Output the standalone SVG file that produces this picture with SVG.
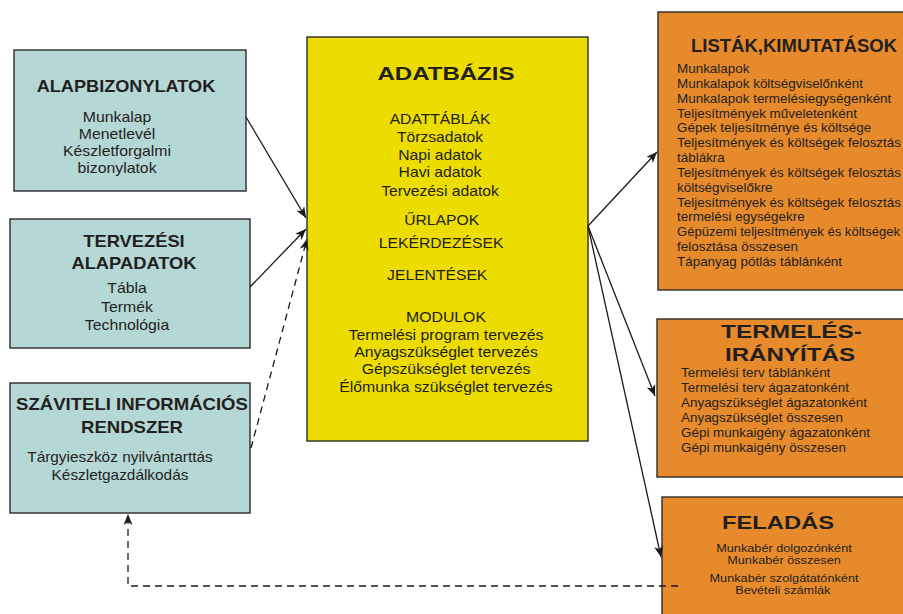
<svg xmlns="http://www.w3.org/2000/svg" width="903" height="614" viewBox="0 0 903 614">
<style>
text{font-family:"Liberation Sans",Arial,sans-serif;fill:#231f20}
.h{font-weight:bold;font-size:16.5px;text-anchor:middle}
.hw{font-weight:bold;font-size:17.5px;text-anchor:middle}
.b{font-size:14px;text-anchor:middle}
.s{font-size:12px}
.sc{font-size:10.6px;text-anchor:middle}
.teal{fill:#b5d7d5;stroke:#2b2b2b;stroke-width:1.4}
.yel{fill:#ecdc00;stroke:#2b2b2b;stroke-width:1.4}
.org{fill:#e68a2c;stroke:#2b2b2b;stroke-width:1.4}
.ln{fill:none;stroke:#1a1a1a;stroke-width:1.3}
.dash{fill:none;stroke:#1a1a1a;stroke-width:1.3;stroke-dasharray:7 5}
</style>
<defs>
<marker id="ah" markerWidth="12" markerHeight="10" refX="11" refY="4.5" orient="auto" markerUnits="userSpaceOnUse">
<path d="M0,0 L11,4.5 L0,9 L3,4.5 Z" fill="#1a1a1a"/>
</marker>
</defs>
<rect width="903" height="614" fill="#ffffff"/>

<g id="alapbizonylatok">
<rect class="teal" x="14" y="50" width="232" height="141"/>
<g transform="translate(126,0) scale(1.1,1)"><text class="h" x="0" y="92">ALAPBIZONYLATOK</text></g>
<g transform="translate(117,0) scale(1.13,1)">
<text class="b" x="0" y="122">Munkalap</text>
<text class="b" x="0" y="139.5">Menetlevél</text>
<text class="b" x="0" y="156">Készletforgalmi</text>
<text class="b" x="0" y="173">bizonylatok</text>
</g>
</g>

<g id="tervezesi-alapadatok">
<rect class="teal" x="10" y="219" width="240" height="129"/>
<g transform="translate(134,0) scale(1.11,1)">
<text class="h" x="0" y="247">TERVEZÉSI</text>
<text class="h" x="0" y="269">ALAPADATOK</text>
</g>
<g transform="translate(127,0) scale(1.13,1)">
<text class="b" x="0" y="293">Tábla</text>
<text class="b" x="0" y="312">Termék</text>
<text class="b" x="0" y="330">Technológia</text>
</g>
</g>

<g id="szviteli-informacios-rendszer">
<rect class="teal" x="10" y="383" width="240" height="130"/>
<g transform="translate(132,0) scale(1.125,1)">
<text class="h" x="0" y="410">SZÁVITELI INFORMÁCIÓS</text>
<text class="h" x="0" y="433">RENDSZER</text>
</g>
<g transform="translate(120,0) scale(1.1,1)">
<text class="b" x="0" y="462">Tárgyieszköz nyilvántarttás</text>
<text class="b" x="0" y="480">Készletgazdálkodás</text>
</g>
</g>

<g id="adatbazis">
<rect class="yel" x="307" y="37" width="281" height="404"/>
<text class="hw" x="446" y="80" textLength="137" lengthAdjust="spacingAndGlyphs">ADATBÁZIS</text>
<g transform="translate(440,0) scale(1.12,1)">
<text class="b" x="0" y="124">ADATTÁBLÁK</text>
<text class="b" x="0" y="142">Törzsadatok</text>
<text class="b" x="0" y="160.5">Napi adatok</text>
<text class="b" x="0" y="177">Havi adatok</text>
<text class="b" x="0" y="196">Tervezési adatok</text>
<text class="b" x="1.5" y="225">ŰRLAPOK</text>
<text class="b" x="1" y="248.5">LEKÉRDEZÉSEK</text>
<text class="b" x="-2.5" y="280.5">JELENTÉSEK</text>
</g>
<g transform="translate(446,0) scale(1.13,1)">
<text class="b" x="0" y="322">MODULOK</text>
<text class="b" x="0" y="340">Termelési program tervezés</text>
<text class="b" x="0" y="357">Anyagszükséglet tervezés</text>
<text class="b" x="0" y="374.5">Gépszükséglet tervezés</text>
<text class="b" x="0" y="392">Élőmunka szükséglet tervezés</text>
</g>
</g>

<g id="listak-kimutatasok">
<rect class="org" x="658" y="12" width="260" height="278"/>
<text class="hw" x="794" y="52" textLength="206" lengthAdjust="spacingAndGlyphs">LISTÁK,KIMUTATÁSOK</text>
<g transform="translate(677,0) scale(1.12,1)">
<text class="s" x="0" y="73">Munkalapok</text>
<text class="s" x="0" y="87.85">Munkalapok költségviselőnként</text>
<text class="s" x="0" y="102.7">Munkalapok termelésiegységenként</text>
<text class="s" x="0" y="117.55">Teljesítmények műveletenként</text>
<text class="s" x="0" y="132.4">Gépek teljesítménye és költsége</text>
<text class="s" x="0" y="147.25">Teljesítmények és költségek felosztás</text>
<text class="s" x="0" y="162.1">táblákra</text>
<text class="s" x="0" y="176.95">Teljesítmények és költségek felosztás</text>
<text class="s" x="0" y="191.8">költségviselőkre</text>
<text class="s" x="0" y="206.65">Teljesítmények és költségek felosztás</text>
<text class="s" x="0" y="221.5">termelési egységekre</text>
<text class="s" x="0" y="251.2">felosztása összesen</text>
<text class="s" x="0" y="266.05">Tápanyag pótlás táblánként</text>
</g>
<g transform="translate(677,0) scale(1.09,1)">
<text class="s" x="0" y="236.35">Gépüzemi teljesítmények és költségek</text>
</g>
</g>

<g id="termelesiranyitas">
<rect class="org" x="657" y="319" width="260" height="158"/>
<text class="hw" x="791.5" y="338" textLength="141" lengthAdjust="spacingAndGlyphs">TERMELÉS-</text>
<text class="hw" x="790" y="361" textLength="130" lengthAdjust="spacingAndGlyphs">IRÁNYÍTÁS</text>
<g transform="translate(681,0) scale(1.12,1)">
<text class="s" x="0" y="377">Termelési terv táblánként</text>
<text class="s" x="0" y="392">Termelési terv ágazatonként</text>
<text class="s" x="0" y="407">Anyagszükséglet ágazatonként</text>
<text class="s" x="0" y="422">Anyagszükséglet összesen</text>
<text class="s" x="0" y="437">Gépi munkaigény ágazatonként</text>
<text class="s" x="0" y="452">Gépi munkaigény összesen</text>
</g>
</g>

<g id="feladas">
<rect class="org" x="662" y="497" width="260" height="130"/>
<text class="hw" x="778" y="529" textLength="112" lengthAdjust="spacingAndGlyphs">FELADÁS</text>
<g transform="translate(784,0) scale(1.2,1)">
<text class="sc" x="0" y="552.5">Munkabér dolgozónként</text>
<text class="sc" x="0" y="564.5">Munkabér összesen</text>
<text class="sc" x="0" y="582">Munkabér szolgátatónként</text>
<text class="sc" x="-1" y="594">Bevételi számlák</text>
</g>
</g>

<g id="connectors">
<line class="ln" x1="246" y1="117" x2="306" y2="218" marker-end="url(#ah)"/>
<line class="ln" x1="250" y1="287" x2="306" y2="229" marker-end="url(#ah)"/>
<line class="dash" x1="251" y1="448" x2="307" y2="239" marker-end="url(#ah)"/>
<line class="ln" x1="588" y1="226" x2="657" y2="152" marker-end="url(#ah)"/>
<line class="ln" x1="588" y1="226" x2="655" y2="396" marker-end="url(#ah)"/>
<line class="ln" x1="588" y1="226" x2="661" y2="557" marker-end="url(#ah)"/>
<polyline class="dash" points="678,586 128,586 128,514" marker-end="url(#ah)"/>
</g>
</svg>
